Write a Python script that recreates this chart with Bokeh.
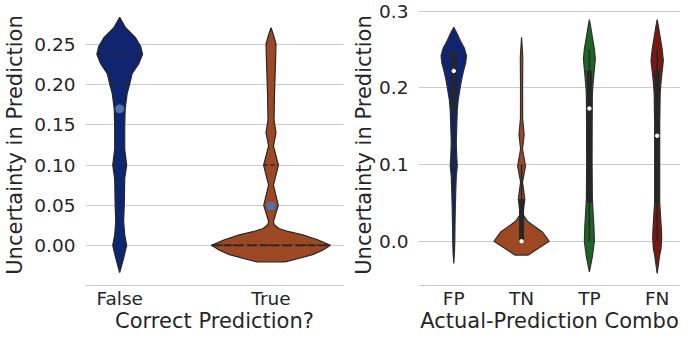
import numpy as np
from bokeh.plotting import figure
from bokeh.layouts import row
from bokeh.models import Range1d, FixedTicker, PrintfTickFormatter
from bokeh.embed import file_html
from bokeh.resources import INLINE

# ---------------- data: left panel ----------------
left_categories = ["False", "True"]
left_colors = ["#10256f", "#9c4822"]
false_y = [0.284, 0.271, 0.259, 0.248, 0.238, 0.226, 0.214, 0.201, 0.189, 0.170, 0.148, 0.120,
           0.100, 0.083, 0.050, 0.030, 0.013, 0.000, -0.016, -0.034]
false_hw = [0.0, 0.039, 0.103, 0.138, 0.151, 0.125, 0.082, 0.066, 0.049, 0.036, 0.033, 0.033,
            0.046, 0.033, 0.030, 0.026, 0.033, 0.046, 0.026, 0.0]
true_y = [0.271, 0.262, 0.251, 0.230, 0.189, 0.156, 0.140, 0.124, 0.100, 0.075, 0.050, 0.030,
          0.026, 0.021, 0.017, 0.013, 0.007, 0.000, -0.006, -0.0115, -0.017, -0.0205, -0.0205]
true_hw = [0.0, 0.016, 0.033, 0.030, 0.023, 0.020, 0.033, 0.016, 0.049, 0.016, 0.048, 0.016,
           0.020, 0.052, 0.118, 0.210, 0.308, 0.393, 0.341, 0.275, 0.170, 0.092, 0.0]
left_q1 = [0.100, 0.000]
left_median = [0.201, 0.000]
left_q3 = [0.238, 0.100]
left_mean = [0.170, 0.049]
left_yticks = [0.0, 0.05, 0.10, 0.15, 0.20, 0.25]

# ---------------- data: right panel ----------------
right_categories = ["FP", "TN", "TP", "FN"]
right_colors = ["#10256f", "#9c4822", "#1e6525", "#7a1711"]
fp_y = [0.279, 0.270, 0.261, 0.252, 0.242, 0.233, 0.223, 0.212, 0.201, 0.185, 0.171, 0.150,
        0.128, 0.110, 0.098, 0.085, 0.064, 0.040, 0.021, 0.000, -0.015, -0.029]
fp_hw = [0.0, 0.052, 0.099, 0.155, 0.187, 0.177, 0.147, 0.118, 0.096, 0.066, 0.052, 0.044,
         0.037, 0.044, 0.052, 0.037, 0.029, 0.022, 0.018, 0.015, 0.010, 0.0]
tn_y = [0.266, 0.240, 0.200, 0.160, 0.139, 0.120, 0.098, 0.077, 0.055, 0.035, 0.026, 0.0206,
        0.012, 0.000, -0.009, -0.018, -0.018]
tn_hw = [0.0, 0.018, 0.015, 0.016, 0.038, 0.014, 0.058, 0.014, 0.048, 0.020, 0.088, 0.172,
         0.309, 0.408, 0.250, 0.099, 0.0]
tp_y = [0.289, 0.278, 0.266, 0.250, 0.238, 0.225, 0.210, 0.193, 0.150, 0.100, 0.055, 0.035,
        0.021, 0.000, -0.020, -0.040]
tp_hw = [0.0, 0.022, 0.044, 0.074, 0.088, 0.074, 0.059, 0.044, 0.041, 0.040, 0.044, 0.056,
         0.066, 0.074, 0.044, 0.0]
fn_y = [0.289, 0.278, 0.266, 0.250, 0.2355, 0.222, 0.210, 0.193, 0.150, 0.100, 0.0507, 0.030,
        0.015, 0.0034, -0.010, -0.018, -0.042]
fn_hw = [0.0, 0.022, 0.044, 0.074, 0.091, 0.074, 0.059, 0.044, 0.037, 0.037, 0.037, 0.052,
         0.062, 0.066, 0.056, 0.037, 0.0]
right_q1 = [0.171, 0.000, 0.0503, 0.0507]
right_q3 = [0.248, 0.055, 0.2226, 0.2226]
right_median = [0.222, 0.000, 0.173, 0.1375]
right_whisker_lo = [0.060, 0.000, 0.000, 0.000]
right_whisker_hi = [0.250, 0.100, 0.250, 0.250]
right_yticks = [0.0, 0.1, 0.2, 0.3]

FONT = "DejaVu Sans"
TXT = "#262626"
GRID = "#cccccc"
TICK_FS = "18.5px"
LABEL_FS = "21px"


def violin_poly(center, ys, hws):
    ys = np.asarray(ys, float)
    hws = np.asarray(hws, float)
    xs = np.concatenate([center + hws, (center - hws)[::-1]])
    yy = np.concatenate([ys, ys[::-1]])
    return list(xs), list(yy)


def style(p, cats, yticks, fmt, xlabel, ylabel_standoff):
    p.background_fill_color = "white"
    p.border_fill_color = "white"
    p.outline_line_color = None
    p.xgrid.grid_line_color = None
    p.ygrid.grid_line_color = GRID
    p.ygrid.grid_line_width = 1
    p.yaxis.ticker = FixedTicker(ticks=yticks)
    p.yaxis.formatter = PrintfTickFormatter(format=fmt)
    p.xaxis.ticker = FixedTicker(ticks=list(range(len(cats))))
    p.xaxis.major_label_overrides = {i: c for i, c in enumerate(cats)}
    for ax in (p.xaxis[0], p.yaxis[0]):
        ax.major_tick_line_color = None
        ax.minor_tick_line_color = None
        ax.major_tick_out = 0
        ax.major_tick_in = 0
        ax.minor_tick_out = 0
        ax.minor_tick_in = 0
        ax.major_label_text_font = FONT
        ax.major_label_text_font_size = TICK_FS
        ax.major_label_text_color = TXT
        ax.axis_label_text_font = FONT
        ax.axis_label_text_font_size = LABEL_FS
        ax.axis_label_text_color = TXT
        ax.axis_label_text_font_style = "normal"
    p.yaxis.axis_line_color = None
    p.xaxis.axis_line_color = GRID
    p.xaxis.axis_line_width = 1
    p.xaxis.major_label_standoff = 2
    p.xaxis.axis_label_standoff = -3
    p.yaxis.major_label_standoff = 10
    p.yaxis.axis_label_standoff = ylabel_standoff
    p.xaxis.axis_label = xlabel
    p.yaxis.axis_label = "Uncertainty in Prediction"


# ---------------- left figure ----------------
p1 = figure(width=346, height=335, output_backend="svg", toolbar_location=None,
            x_range=Range1d(-0.226, 1.479), y_range=Range1d(-0.05, 0.30),
            min_border_left=83, min_border_right=3, min_border_top=4, min_border_bottom=50)
style(p1, left_categories, left_yticks, "%.2f", "Correct Prediction?", 4)

left_profiles = [(false_y, false_hw), (true_y, true_hw)]
for i, (ys, hws) in enumerate(left_profiles):
    xs, yy = violin_poly(i, ys, hws)
    p1.patch(xs, yy, fill_color=left_colors[i], line_color="#262626", line_width=1.2)
    ys_a = np.asarray(ys)[::-1]
    hw_a = np.asarray(hws)[::-1]
    for val, dash, lw in ((left_q1[i], "4 3", 1.5), (left_q3[i], "4 3", 1.5), (left_median[i], "8 4", 1.6)):
        h = float(np.interp(val, ys_a, hw_a))
        p1.line([i - h, i + h], [val, val], line_color="#262626", line_dash=dash, line_width=lw)
p1.scatter(list(range(len(left_categories))), left_mean, size=8, fill_color="#4c72b0",
           line_color="#4c72b0")

# ---------------- right figure ----------------
p2 = figure(width=334, height=335, output_backend="svg", toolbar_location=None,
            x_range=Range1d(-0.52, 3.344), y_range=Range1d(-0.0577, 0.3086),
            min_border_left=72, min_border_right=0, min_border_top=4, min_border_bottom=50)
style(p2, right_categories, right_yticks, "%.1f", "Actual-Prediction Combo", 0)

right_profiles = [(fp_y, fp_hw), (tn_y, tn_hw), (tp_y, tp_hw), (fn_y, fn_hw)]
for i, (ys, hws) in enumerate(right_profiles):
    xs, yy = violin_poly(i, ys, hws)
    p2.patch(xs, yy, fill_color=right_colors[i], line_color="#2e2e2e", line_width=1.2)
xi = list(range(len(right_categories)))
p2.segment(xi, right_whisker_lo, xi, right_whisker_hi, line_color="#262626", line_width=1.6)
p2.segment(xi, right_q1, xi, right_q3, line_color="#262626", line_width=5)
p2.scatter(xi, right_median, size=3.5, fill_color="white", line_color="white")

layout = row(p1, p2)
open("out.html", "w").write(file_html(layout, INLINE))
